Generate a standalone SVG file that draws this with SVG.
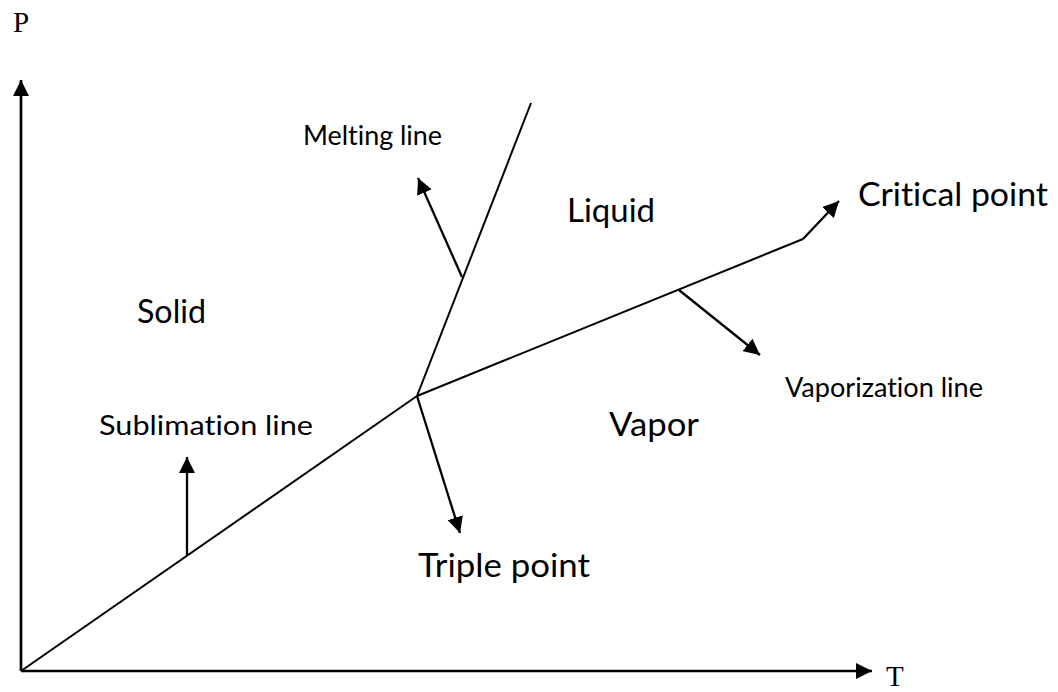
<svg xmlns="http://www.w3.org/2000/svg" width="1058" height="692" viewBox="0 0 1058 692">
<style>
.axis{stroke:#000;stroke-width:2.7;fill:none}
.curve{stroke:#000;stroke-width:2;fill:none}
.arr{stroke:#000;stroke-width:2.3;fill:none}
.sm{font-family:Lato,"Open Sans",sans-serif;font-size:26px;fill:#000;font-variant-ligatures:none}
.lg{font-family:Lato,"Open Sans",sans-serif;font-size:33px;fill:#000;font-variant-ligatures:none}
.ax{font-family:"Liberation Serif",serif;font-size:29px;fill:#000}
</style>
<defs>
<marker id="head" markerUnits="userSpaceOnUse" markerWidth="16" markerHeight="16" refX="16" refY="8" orient="auto" viewBox="0 0 16 16">
<path d="M0,0 L16,8 L0,16 z" fill="#000"/>
</marker>
<marker id="ahead" markerUnits="userSpaceOnUse" markerWidth="16" markerHeight="16" refX="16" refY="8" orient="auto" viewBox="0 0 16 16">
<path d="M0,0 L16,8 L0,16 z" fill="#000"/>
</marker>
</defs>
<rect width="1058" height="692" fill="#fff"/>
<g id="axes">
<line class="axis" x1="21" y1="671" x2="21" y2="80" marker-end="url(#ahead)"/>
<line class="axis" x1="21" y1="671" x2="872" y2="671" marker-end="url(#ahead)"/>
<text class="ax" x="13" y="32">P</text>
<text class="ax" x="886" y="686">T</text>
</g>
<g id="phase-lines">
<line class="curve" x1="21" y1="671" x2="417" y2="396"/>
<line class="curve" x1="417" y1="396" x2="531" y2="103"/>
<polyline class="curve" points="417,396 803,239"/>
</g>
<g id="connectors">
<line class="arr" x1="803" y1="239" x2="839" y2="201" marker-end="url(#head)"/>
<line class="arr" x1="417" y1="396" x2="460" y2="533" marker-end="url(#head)"/>
<line class="arr" x1="462" y1="277" x2="418" y2="178" marker-end="url(#head)"/>
<line class="arr" x1="679" y1="290" x2="760" y2="355" marker-end="url(#head)"/>
<line class="arr" x1="187" y1="556" x2="187" y2="457" marker-end="url(#head)"/>
</g>
<g id="solid"><text class="lg" x="137" y="323" textLength="69" lengthAdjust="spacingAndGlyphs">Solid</text></g>
<g id="liquid"><text class="lg" x="567" y="222" textLength="88" lengthAdjust="spacingAndGlyphs">Liquid</text></g>
<g id="vapor"><text class="lg" x="609" y="436" textLength="90" lengthAdjust="spacingAndGlyphs">Vapor</text></g>
<g id="critical-point"><text class="lg" x="858" y="206" textLength="190" lengthAdjust="spacingAndGlyphs">Critical point</text></g>
<g id="triple-point"><text class="lg" x="418" y="577" textLength="172" lengthAdjust="spacingAndGlyphs">Triple point</text></g>
<g id="melting-line"><text class="sm" x="303" y="145" textLength="139" lengthAdjust="spacingAndGlyphs">Melting line</text></g>
<g id="sublimation-line"><text class="sm" x="99" y="435" textLength="214" lengthAdjust="spacingAndGlyphs">Sublimation line</text></g>
<g id="vaporization-line"><text class="sm" x="785" y="397" textLength="198" lengthAdjust="spacingAndGlyphs">Vaporization line</text></g>
</svg>
